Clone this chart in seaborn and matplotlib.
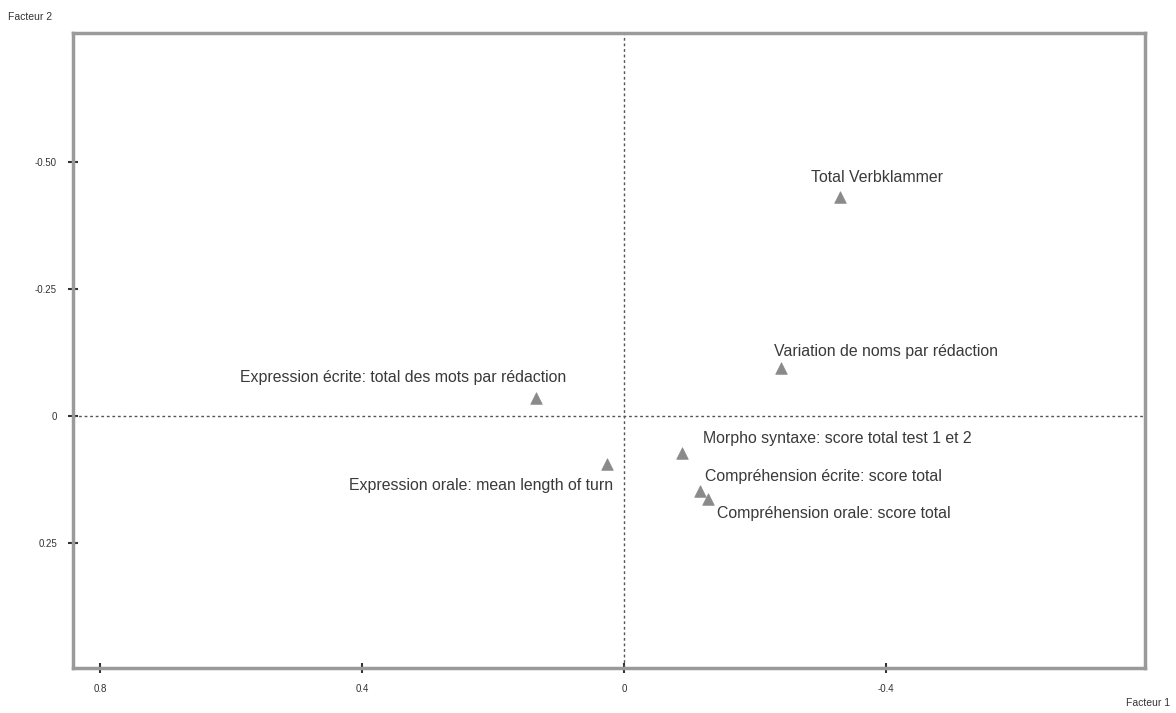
import matplotlib
matplotlib.use("Agg")
import matplotlib.pyplot as plt
import seaborn as sns
import pandas as pd

# Données : coordonnées des variables sur les deux premiers facteurs
variables = [
    "Total Verbklammer",
    "Variation de noms par rédaction",
    "Expression écrite: total des mots par rédaction",
    "Expression orale: mean length of turn",
    "Morpho syntaxe: score total test 1 et 2",
    "Compréhension écrite: score total",
    "Compréhension orale: score total",
]
facteur1 = [-0.330, -0.240, 0.134, 0.026, -0.089, -0.116, -0.128]
facteur2 = [-0.431, -0.094, -0.035, 0.094, 0.073, 0.148, 0.163]

x_ticks = [0.8, 0.4, 0, -0.4]
x_tick_labels = ["0.8", "0.4", "0", "-0.4"]
y_ticks = [-0.5, -0.25, 0, 0.25]
y_tick_labels = ["-0.50", "-0.25", "0", "0.25"]

df = pd.DataFrame({"Variable": variables, "F1": facteur1, "F2": facteur2})

sns.set_theme(style="white")
plt.rcParams["font.family"] = ["Liberation Sans", "DejaVu Sans"]

fig = plt.figure(figsize=(11.76, 7.13), dpi=100)
ax = fig.add_axes([73 / 1176, 45 / 713, (1145 - 73) / 1176, (668 - 33) / 713])

sns.scatterplot(data=df, x="F1", y="F2", marker="^", s=70, color="#8a8a8a",
                edgecolor="#8a8a8a", linewidth=0.5, ax=ax, legend=False)

# axes inversés comme dans l'original
ax.set_xlim(0.841, -0.795)
ax.set_ylim(0.496, -0.754)

ax.axhline(0, color="#555555", linestyle=(0, (2, 2)), linewidth=1)
ax.axvline(0, color="#555555", linestyle=(0, (2, 2)), linewidth=1)

# étiquettes des points (décalage en pixels)
offsets = {
    "Total Verbklammer": (37, 20, "center"),
    "Variation de noms par rédaction": (-7, 17, "left"),
    "Expression écrite: total des mots par rédaction": (30, 21, "right"),
    "Expression orale: mean length of turn": (6, -22, "right"),
    "Morpho syntaxe: score total test 1 et 2": (21, 15, "left"),
    "Compréhension écrite: score total": (5, 15, "left"),
    "Compréhension orale: score total": (9, -15, "left"),
}
for _, row in df.iterrows():
    dx, dy, ha = offsets[row["Variable"]]
    ax.annotate(row["Variable"], (row["F1"], row["F2"]), xytext=(dx * 0.72, dy * 0.72),
                textcoords="offset points", ha=ha, va="center", fontsize=11.4,
                color="#3a3a3a")

ax.set_xticks(x_ticks)
ax.set_xticklabels(x_tick_labels)
ax.set_yticks(y_ticks)
ax.set_yticklabels(y_tick_labels)
ax.tick_params(axis="both", labelsize=7, colors="#333333", direction="inout",
               length=7, width=1.5, pad=8, bottom=True, left=True)

for side in ["left", "right", "top", "bottom"]:
    ax.spines[side].set_color("#9a9a9a")
    ax.spines[side].set_linewidth(2.5)

ax.set_xlabel("")
ax.set_ylabel("")
fig.text(8 / 1176, 1 - 17 / 713, "Facteur 2", fontsize=7.5, color="#333333", va="center")
fig.text(1170 / 1176, 1 - 703 / 713, "Facteur 1", fontsize=7.5, color="#333333",
         va="center", ha="right")

fig.savefig("out.png", dpi=100)
